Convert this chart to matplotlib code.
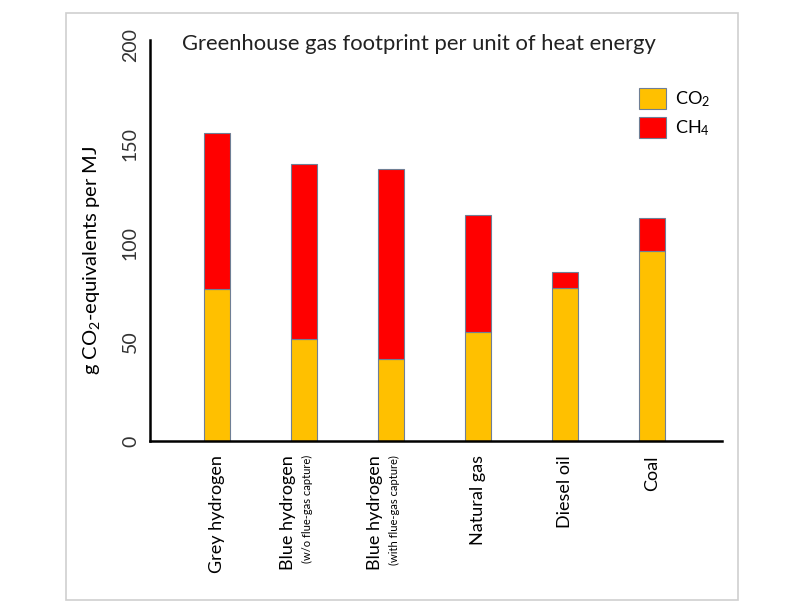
import matplotlib.pyplot as plt
import matplotlib.transforms as mtransforms
from matplotlib.patches import Rectangle

plt.rcParams['font.family'] = ['Lato', 'DejaVu Sans']

# data
fuels = ["Grey hydrogen", "Blue hydrogen", "Blue hydrogen", "Natural gas", "Diesel oil", "Coal"]
fuel_notes = ["", "(w/o flue-gas capture)", "(with flue-gas capture)", "", "", ""]
co2 = [77, 51.5, 41.5, 55, 77.5, 96]
ch4 = [78.5, 88.5, 96, 59, 8, 16.5]
y_ticks = [0, 50, 100, 150, 200]

fig = plt.figure(figsize=(8, 6.1), dpi=100)
ax = fig.add_axes([0.1875, 0.277, 0.715, 0.657])

# light frame round the whole picture
fig.patches.append(Rectangle((0.082, 0.016), 0.841, 0.963, transform=fig.transFigure,
                             fill=False, edgecolor="#cfcfcf", linewidth=1.2))

x = list(range(len(fuels)))
ax.bar(x, co2, width=0.3, color="#FFC000", edgecolor="#6f7f95", linewidth=0.8, label="$\\mathregular{CO_2}$")
ax.bar(x, ch4, width=0.3, bottom=co2, color="#FF0000", edgecolor="#6f7f95", linewidth=0.8,
       label="$\\mathregular{CH_4}$")

ax.set_xlim(-0.77, 5.8)
ax.set_ylim(0, 202.5)
ax.set_yticks(y_ticks)
ax.set_yticklabels([str(t) for t in y_ticks], rotation=90, va="center", fontsize=14, color="#333333")
ax.tick_params(axis="y", length=0, pad=8)
ax.set_xticks([])

for s in ["top", "right"]:
    ax.spines[s].set_visible(False)
ax.spines["left"].set_linewidth(1.8)
ax.spines["bottom"].set_linewidth(1.8)

ax.set_ylabel("g $\\mathregular{CO_2}$-equivalents per MJ", fontsize=14.5)
ax.yaxis.set_label_coords(-0.084, 0.451)

# category labels below the axis, rotated
trans = mtransforms.blended_transform_factory(ax.transData, ax.transAxes)
for i, (name, note) in enumerate(zip(fuels, fuel_notes)):
    if note:
        ax.text(i - 0.18, -0.035, name, rotation=90, ha="center", va="top", fontsize=13, transform=trans)
        ax.text(i + 0.04, -0.035, note, rotation=90, ha="center", va="top", fontsize=8, transform=trans)
    else:
        ax.text(i, -0.035, name, rotation=90, ha="center", va="top", fontsize=13, transform=trans)

ax.text(0.47, 0.99, "Greenhouse gas footprint per unit of heat energy", transform=ax.transAxes,
        ha="center", va="center", fontsize=15.8, color="#222222")

ax.legend(loc="upper left", bbox_to_anchor=(0.855, 0.88), frameon=False, fontsize=13,
          handlelength=1.5, handleheight=1.4, handletextpad=0.5, labelspacing=0.4,
          borderpad=0, borderaxespad=0)

plt.savefig("out.png", dpi=100)
